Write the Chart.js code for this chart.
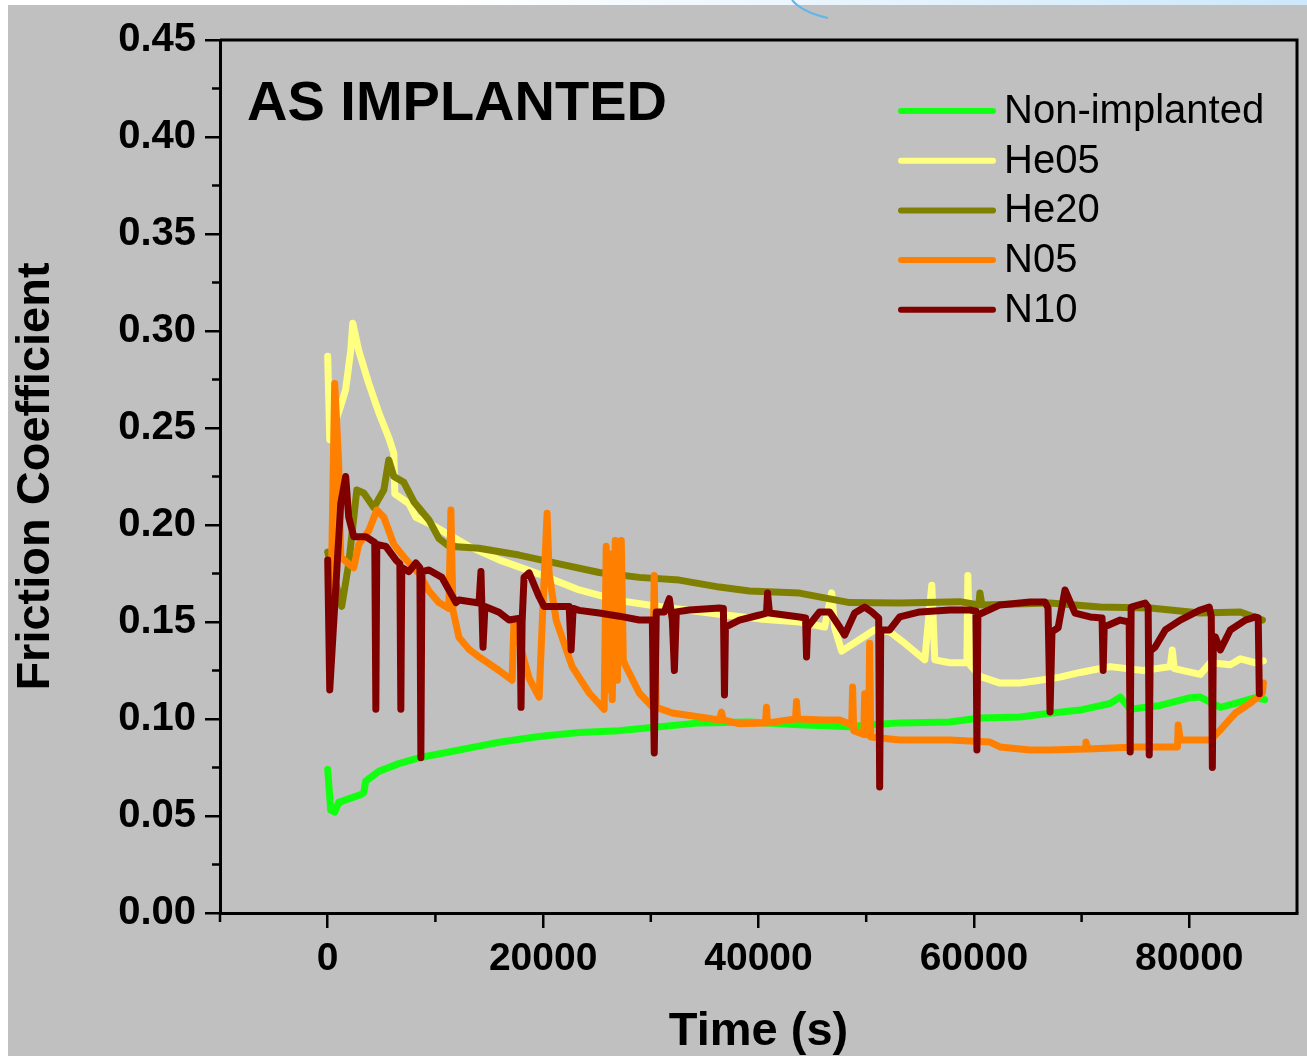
<!DOCTYPE html>
<html>
<head>
<meta charset="utf-8">
<script src="https://cdn.jsdelivr.net/npm/chart.js@4.4.1/dist/chart.umd.min.js"></script>
<style>
html, body { margin: 0; padding: 0; background: #fff; }
#wrap { width: 1307px; height: 1056px; }
</style>
</head>
<body>
<div id="wrap"><canvas id="chart" width="1307" height="1056"></canvas></div>
<script>
// [time (s), friction coefficient]
const nonImplanted = [[0,0.074],[280,0.053],[650,0.052],[1020,0.057],[3070,0.061],[3350,0.062],[3530,0.068],[4740,0.073],[6600,0.077],[8470,0.080],[11260,0.083],[14050,0.086],[15910,0.088],[19630,0.091],[23350,0.093],[27070,0.094],[29860,0.0955],[34510,0.098],[39160,0.0985],[43810,0.097],[48460,0.096],[50320,0.097],[53110,0.098],[57770,0.0985],[60560,0.1005],[64280,0.101],[67070,0.103],[69860,0.1046],[72650,0.108],[73580,0.1113],[74510,0.105],[77310,0.107],[80090,0.111],[81020,0.1113],[82880,0.106],[84280,0.108],[86140,0.111],[87000,0.110]];

const he05 = [[0,0.287],[190,0.244],[1300,0.263],[1670,0.270],[2140,0.290],[2330,0.304],[2880,0.290],[3810,0.273],[4740,0.258],[5670,0.245],[6140,0.237],[6230,0.216],[7540,0.211],[8190,0.204],[10040,0.199],[11260,0.195],[13120,0.189],[15910,0.182],[19630,0.1747],[23350,0.1665],[27070,0.161],[30790,0.158],[36370,0.154],[40090,0.1516],[43810,0.150],[46140,0.1474],[46790,0.165],[47070,0.147],[47720,0.135],[49400,0.141],[50790,0.146],[52180,0.145],[53580,0.139],[55440,0.1305],[56090,0.169],[56370,0.1305],[57770,0.129],[59350,0.129],[59440,0.174],[59630,0.128],[60560,0.122],[62420,0.1185],[64280,0.1186],[66140,0.120],[68000,0.1216],[69860,0.124],[72650,0.127],[75720,0.125],[78230,0.127],[78420,0.1356],[78600,0.126],[81020,0.123],[81950,0.129],[83810,0.128],[84740,0.131],[86140,0.129],[86880,0.130]];

const he20 = [[0,0.186],[1300,0.158],[1950,0.180],[2700,0.218],[3350,0.2165],[4280,0.209],[5210,0.218],[5670,0.2335],[6140,0.225],[7070,0.222],[8000,0.212],[9400,0.2026],[10330,0.193],[11260,0.189],[14050,0.188],[17770,0.1845],[21490,0.180],[25210,0.1755],[28930,0.173],[32650,0.1716],[36370,0.168],[39160,0.166],[43810,0.1649],[48460,0.160],[53110,0.1598],[58700,0.1605],[60460,0.1588],[60560,0.165],[60740,0.1588],[67070,0.1598],[71720,0.1577],[76370,0.1572],[81020,0.1546],[84740,0.1552],[86790,0.151]];

const n05 = [[300,0.158],[650,0.273],[1020,0.232],[1210,0.1835],[1950,0.180],[2420,0.178],[2880,0.190],[3810,0.197],[4560,0.2077],[5210,0.204],[6140,0.190],[7070,0.1835],[8470,0.175],[9400,0.166],[10330,0.160],[11250,0.157],[11440,0.2077],[11630,0.156],[12190,0.142],[13120,0.136],[14050,0.132],[15910,0.125],[17120,0.120],[17300,0.151],[17770,0.140],[18700,0.121],[19630,0.1113],[20000,0.160],[20370,0.206],[20560,0.175],[21210,0.151],[22700,0.127],[24280,0.1134],[25670,0.105],[25860,0.189],[26050,0.115],[26230,0.185],[26420,0.110],[26700,0.192],[26900,0.120],[27070,0.175],[27260,0.192],[27450,0.130],[27720,0.1268],[28930,0.1134],[30140,0.1062],[30320,0.174],[30510,0.106],[32000,0.1031],[35160,0.1005],[36370,0.0995],[36560,0.1036],[36740,0.0995],[38230,0.0975],[40650,0.098],[40740,0.106],[40840,0.098],[43440,0.100],[43530,0.109],[43630,0.100],[46000,0.0995],[47530,0.0995],[48650,0.097],[48740,0.1165],[48840,0.094],[49770,0.092],[49860,0.113],[49950,0.092],[50230,0.0918],[50320,0.139],[50420,0.0907],[53110,0.0892],[57770,0.0892],[61490,0.0881],[62420,0.0856],[65210,0.084],[67000,0.084],[70320,0.0845],[70400,0.0881],[70600,0.0845],[74970,0.0856],[78900,0.0856],[78970,0.0969],[79160,0.0892],[81950,0.0892],[82880,0.0943],[84280,0.1031],[85670,0.1082],[86790,0.1134],[86880,0.1186]];

const n10 = [[0,0.182],[190,0.115],[1210,0.211],[1670,0.225],[1950,0.204],[2420,0.194],[3540,0.194],[4370,0.191],[4470,0.105],[4560,0.190],[5400,0.189],[6330,0.182],[6700,0.180],[6790,0.105],[6880,0.178],[7540,0.176],[8190,0.1804],[8560,0.178],[8650,0.080],[8750,0.176],[9400,0.1768],[10600,0.173],[11910,0.160],[12190,0.1613],[14050,0.1598],[14230,0.176],[14420,0.137],[14600,0.158],[15910,0.155],[16840,0.151],[17860,0.152],[17950,0.106],[18050,0.150],[18230,0.173],[18700,0.1753],[19630,0.163],[20090,0.158],[22420,0.158],[22600,0.1356],[22790,0.157],[23350,0.156],[25210,0.1546],[27070,0.153],[28930,0.151],[30140,0.151],[30320,0.0825],[30510,0.1552],[31260,0.1552],[31720,0.162],[32000,0.151],[32190,0.125],[32370,0.1552],[33580,0.1562],[36370,0.1572],[36740,0.157],[36840,0.1124],[36930,0.1474],[38230,0.151],[40090,0.1536],[40740,0.1546],[40840,0.1649],[41020,0.1546],[43810,0.1526],[44370,0.1521],[44460,0.132],[44560,0.1474],[45670,0.1552],[46600,0.1552],[47530,0.1474],[48000,0.1433],[48930,0.1546],[49860,0.1577],[50510,0.1552],[51160,0.152],[51250,0.065],[51350,0.146],[52180,0.1459],[53110,0.1526],[54980,0.1552],[57770,0.1562],[59630,0.1562],[60190,0.1556],[60280,0.084],[60370,0.1536],[62420,0.1588],[65210,0.1603],[66600,0.1603],[66880,0.1572],[67070,0.1036],[67250,0.145],[67820,0.147],[68460,0.1665],[69390,0.1546],[70790,0.1526],[71900,0.1521],[72000,0.125],[72100,0.1474],[73580,0.151],[74420,0.150],[74510,0.083],[74600,0.1577],[75900,0.1598],[76180,0.1577],[76280,0.0815],[76370,0.135],[76830,0.1371],[77770,0.1459],[79160,0.151],[81020,0.1562],[81850,0.1577],[82040,0.153],[82140,0.075],[82230,0.140],[82420,0.1423],[82880,0.1356],[83810,0.1459],[85210,0.151],[86140,0.1526],[86400,0.1521],[86500,0.113]];

const seriesNames = ["Non-implanted", "He05", "He20", "N05", "N10"];
const seriesColors = ["#11ff11", "#ffff80", "#808000", "#ff8000", "#800000"];

const xTickValues = [0, 20000, 40000, 60000, 80000];
const xMinorTicks = [-10000, 10000, 30000, 50000, 70000];
const yTickValues = [0, 0.05, 0.10, 0.15, 0.20, 0.25, 0.30, 0.35, 0.40, 0.45];
const yMinorTicks = [0.025, 0.075, 0.125, 0.175, 0.225, 0.275, 0.325, 0.375, 0.425];

const FONT = "'Liberation Sans', Arial, Helvetica, sans-serif";

function toPoints(arr) {
    return arr.map(p => ({x: p[0], y: p[1]}));
}

const allSeries = [nonImplanted, he05, he20, n05, n10];
let datasets = [];
for (let i = 0; i < allSeries.length; i++) {
    datasets.push({
        label: seriesNames[i],
        data: toPoints(allSeries[i]),
        borderColor: seriesColors[i],
        backgroundColor: seriesColors[i],
        borderWidth: 7,
        pointRadius: 0,
        tension: 0,
        borderJoinStyle: "round",
        borderCapStyle: "round",
        order: allSeries.length - i
    });
}

// background, frame, minor ticks, inner title and legend
const framePlugin = {
    id: "frame",
    beforeDraw(chart) {
        let ctx = chart.ctx;
        ctx.save();
        ctx.fillStyle = "#ffffff";
        ctx.fillRect(0, 0, chart.width, chart.height);
        let g = ctx.createLinearGradient(450, 0, chart.width, 0);
        g.addColorStop(0, "#ffffff");
        g.addColorStop(1, "#cde8fa");
        ctx.fillStyle = g;
        ctx.fillRect(0, 0, chart.width, 6);
        ctx.fillStyle = "#c0c0c0";
        ctx.fillRect(8, 5, chart.width - 8, chart.height - 5);
        ctx.strokeStyle = "#5fb5ee";
        ctx.lineWidth = 2;
        ctx.beginPath();
        ctx.moveTo(792, 0);
        ctx.quadraticCurveTo(802, 12, 828, 18);
        ctx.stroke();
        ctx.restore();
    },
    afterDraw(chart) {
        let ctx = chart.ctx;
        let a = chart.chartArea;
        let xs = chart.scales.x;
        let ys = chart.scales.y;
        ctx.save();
        ctx.strokeStyle = "#000";
        ctx.lineWidth = 3;
        ctx.beginPath();
        ctx.moveTo(a.left, a.top);
        ctx.lineTo(a.right, a.top);
        ctx.lineTo(a.right, a.bottom);
        ctx.stroke();

        ctx.lineWidth = 2.5;
        ctx.beginPath();
        xMinorTicks.forEach(v => {
            let px = xs.getPixelForValue(v);
            ctx.moveTo(px, a.bottom);
            ctx.lineTo(px, a.bottom + 9);
        });
        yMinorTicks.forEach(v => {
            let py = ys.getPixelForValue(v);
            ctx.moveTo(a.left - 8, py);
            ctx.lineTo(a.left, py);
        });
        ctx.stroke();

        ctx.fillStyle = "#000";
        ctx.font = "bold 56px " + FONT;
        ctx.textBaseline = "alphabetic";
        ctx.textAlign = "left";
        ctx.fillText("AS IMPLANTED", a.left + 27, a.top + 80);

        ctx.font = "40px " + FONT;
        ctx.textBaseline = "middle";
        ctx.lineCap = "round";
        ctx.lineWidth = 6;
        chart.data.datasets.forEach((ds, i) => {
            let y = a.top + 71 + i * 49.7;
            ctx.strokeStyle = ds.borderColor;
            ctx.beginPath();
            ctx.moveTo(a.left + 681, y);
            ctx.lineTo(a.left + 773, y);
            ctx.stroke();
            ctx.fillStyle = "#000";
            ctx.fillText(ds.label, a.left + 784, y + 1);
        });
        ctx.restore();
    }
};

let ctx = document.getElementById("chart").getContext("2d");
let chart = new Chart(ctx, {
    type: "line",
    data: {datasets: datasets},
    plugins: [framePlugin],
    options: {
        responsive: false,
        animation: false,
        devicePixelRatio: 1,
        layout: {padding: {top: 40, right: 10, left: 0, bottom: 0}},
        plugins: {legend: {display: false}, tooltip: {enabled: false}},
        scales: {
            x: {
                type: "linear",
                min: -10000,
                max: 90000,
                afterFit: function(s) { s.height = 143; },
                afterBuildTicks: function(s) { s.ticks = xTickValues.map(v => ({value: v})); },
                ticks: {
                    color: "#000",
                    padding: 8,
                    autoSkip: false,
                    maxRotation: 0,
                    font: {family: FONT, size: 39, weight: "bold"},
                    callback: v => String(v)
                },
                grid: {drawOnChartArea: false, color: "#000", tickLength: 15, lineWidth: 2.5},
                border: {color: "#000", width: 3},
                title: {
                    display: true,
                    text: "Time (s)",
                    color: "#000",
                    font: {family: FONT, size: 47, weight: "bold", lineHeight: 1},
                    padding: {top: 0, bottom: 0}
                }
            },
            y: {
                min: 0,
                max: 0.45,
                afterFit: function(s) { s.width = 220; },
                afterBuildTicks: function(s) { s.ticks = yTickValues.map(v => ({value: v})); },
                ticks: {
                    color: "#000",
                    padding: 9,
                    font: {family: FONT, size: 40, weight: "bold"},
                    callback: v => v.toFixed(2)
                },
                grid: {drawOnChartArea: false, color: "#000", tickLength: 15, lineWidth: 2.5},
                border: {color: "#000", width: 3},
                title: {
                    display: true,
                    text: "Friction Coefficient",
                    color: "#000",
                    font: {family: FONT, size: 47, weight: "bold", lineHeight: 1},
                    padding: {top: 13, bottom: 0}
                }
            }
        }
    }
});
</script>
</body>
</html>
